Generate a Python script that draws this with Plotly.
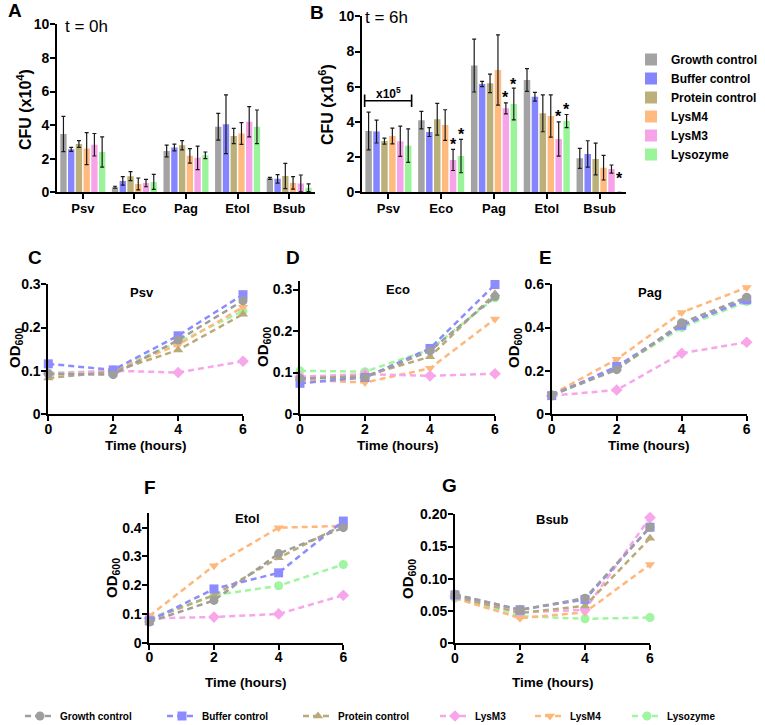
import plotly.graph_objects as go

W, H = 765, 725

# ---------------- data ----------------
strains = ["Psv", "Eco", "Pag", "Etol", "Bsub"]
bar_names = ["Growth control", "Buffer control", "Protein control", "LysM4", "LysM3", "Lysozyme"]
bar_colors = ["#a3a3a3", "#8585ff", "#bcb07a", "#ffba80", "#f6a3ea", "#9af59a"]

# Panel A: CFU (x10^4), t = 0h  (mean, sd) per strain
a_growth = [3.47, 0.30, 2.46, 3.90, 0.83]
a_growth_err = [1.05, 0.06, 0.35, 0.80, 0.06]
a_buffer = [2.56, 0.68, 2.67, 4.05, 0.80]
a_buffer_err = [0.12, 0.25, 0.20, 1.75, 0.25]
a_protein = [2.87, 0.96, 2.80, 3.35, 0.97]
a_protein_err = [0.20, 0.27, 0.28, 0.45, 0.75]
a_lysm4 = [2.60, 0.50, 2.17, 3.50, 0.56]
a_lysm4_err = [0.95, 0.35, 0.43, 0.65, 0.37]
a_lysm3 = [2.83, 0.55, 2.05, 4.20, 0.53]
a_lysm3_err = [0.67, 0.22, 0.70, 0.90, 0.50]
a_lysozyme = [2.40, 0.62, 2.20, 3.90, 0.27]
a_lysozyme_err = [0.90, 0.45, 0.20, 1.00, 0.23]

# Panel B: CFU (x10^6), t = 6h (Psv in x10^5)
b_growth = [3.48, 4.10, 7.20, 6.38, 1.93]
b_growth_err = [1.07, 0.50, 1.50, 0.65, 0.57]
b_buffer = [3.45, 3.42, 6.15, 5.43, 2.18]
b_buffer_err = [0.65, 0.25, 0.15, 0.25, 0.75]
b_protein = [2.91, 4.15, 6.19, 4.49, 1.89]
b_protein_err = [0.17, 0.90, 0.53, 1.05, 0.90]
b_lysm4 = [3.20, 3.82, 6.95, 4.34, 1.40]
b_lysm4_err = [0.45, 0.87, 2.00, 1.20, 0.70]
b_lysm3 = [2.90, 1.84, 4.77, 3.03, 1.32]
b_lysm3_err = [0.86, 0.60, 0.31, 0.97, 0.23]
b_lysozyme = [2.65, 2.06, 5.02, 4.05, 0.00]
b_lysozyme_err = [0.95, 0.95, 0.90, 0.37, 0.00]

# significance stars in B: (strain index, series index, height)
b_star_strain = [1, 1, 2, 2, 3, 3, 4]
b_star_series = [4, 5, 4, 5, 4, 5, 5]
b_star_y = [2.87, 3.44, 5.58, 6.28, 4.49, 4.86, 0.94]

# Growth curves (OD600)
time_h = [0, 2, 4, 6]
line_names = ["Growth control", "Buffer control", "Protein control", "LysM3", "LysM4", "Lysozyme"]
line_colors = ["#9e9e9e", "#8c8cff", "#b9ab78", "#f7a6ea", "#ffb77a", "#a0f5a0"]
line_symbols = ["circle", "square", "triangle-up", "diamond", "triangle-down", "circle"]

psv_growth = [0.093, 0.091, 0.171, 0.262]
psv_buffer = [0.116, 0.102, 0.181, 0.276]
psv_protein = [0.083, 0.098, 0.148, 0.231]
psv_lysm3 = [0.093, 0.100, 0.096, 0.122]
psv_lysm4 = [0.090, 0.100, 0.160, 0.247]
psv_lysozyme = [0.095, 0.100, 0.166, 0.238]

eco_growth = [0.086, 0.088, 0.152, 0.283]
eco_buffer = [0.074, 0.088, 0.158, 0.312]
eco_protein = [0.085, 0.092, 0.138, 0.290]
eco_lysm3 = [0.090, 0.096, 0.092, 0.097]
eco_lysm4 = [0.082, 0.076, 0.110, 0.229]
eco_lysozyme = [0.104, 0.102, 0.155, 0.280]

pag_growth = [0.087, 0.205, 0.422, 0.540]
pag_buffer = [0.085, 0.220, 0.410, 0.528]
pag_protein = [0.090, 0.210, 0.410, 0.530]
pag_lysm3 = [0.085, 0.111, 0.281, 0.332]
pag_lysm4 = [0.090, 0.253, 0.470, 0.585]
pag_lysozyme = [0.090, 0.210, 0.400, 0.520]

etol_growth = [0.072, 0.147, 0.310, 0.400]
etol_buffer = [0.076, 0.187, 0.243, 0.423]
etol_protein = [0.080, 0.165, 0.295, 0.410]
etol_lysm3 = [0.085, 0.089, 0.100, 0.165]
etol_lysm4 = [0.093, 0.268, 0.400, 0.406]
etol_lysozyme = [0.085, 0.165, 0.198, 0.272]

bsub_growth = [0.076, 0.052, 0.070, 0.180]
bsub_buffer = [0.075, 0.052, 0.068, 0.180]
bsub_protein = [0.072, 0.047, 0.058, 0.163]
bsub_lysm3 = [0.073, 0.048, 0.052, 0.195]
bsub_lysm4 = [0.070, 0.039, 0.048, 0.122]
bsub_lysozyme = [0.070, 0.042, 0.038, 0.040]

# ---------------- helpers ----------------
FONT = "Liberation Sans, Arial, sans-serif"


def xd(a, b):
    return [a / W, b / W]


def yd(top, bot):
    return [1 - bot / H, 1 - top / H]


def px(x):
    return x / W


def py(y):
    return 1 - y / H


fig = go.Figure()

a_sets = [(a_growth, a_growth_err), (a_buffer, a_buffer_err), (a_protein, a_protein_err),
          (a_lysm4, a_lysm4_err), (a_lysm3, a_lysm3_err), (a_lysozyme, a_lysozyme_err)]
b_sets = [(b_growth, b_growth_err), (b_buffer, b_buffer_err), (b_protein, b_protein_err),
          (b_lysm4, b_lysm4_err), (b_lysm3, b_lysm3_err), (b_lysozyme, b_lysozyme_err)]

for i, (vals, err) in enumerate(a_sets):
    fig.add_trace(go.Bar(
        x=strains, y=vals, name=bar_names[i], marker=dict(color=bar_colors[i], line=dict(width=0)),
        error_y=dict(type="data", array=err, color="#1a1a1a", thickness=1.2, width=2),
        xaxis="x", yaxis="y", legend="legend", showlegend=True, legendrank=i + 1))

for i, (vals, err) in enumerate(b_sets):
    fig.add_trace(go.Bar(
        x=strains, y=vals, name=bar_names[i], marker=dict(color=bar_colors[i], line=dict(width=0)),
        error_y=dict(type="data", array=err, color="#1a1a1a", thickness=1.2, width=2),
        xaxis="x2", yaxis="y2", showlegend=False))

panels = [
    ("x3", "y3", [psv_growth, psv_buffer, psv_protein, psv_lysm3, psv_lysm4, psv_lysozyme]),
    ("x4", "y4", [eco_growth, eco_buffer, eco_protein, eco_lysm3, eco_lysm4, eco_lysozyme]),
    ("x5", "y5", [pag_growth, pag_buffer, pag_protein, pag_lysm3, pag_lysm4, pag_lysozyme]),
    ("x6", "y6", [etol_growth, etol_buffer, etol_protein, etol_lysm3, etol_lysm4, etol_lysozyme]),
    ("x7", "y7", [bsub_growth, bsub_buffer, bsub_protein, bsub_lysm3, bsub_lysm4, bsub_lysozyme]),
]
legend_widths = [97, 91, 80, 50, 52, 60]
draw_order = [5, 4, 3, 2, 1, 0]
for p, (xa, ya, series) in enumerate(panels):
    for i in draw_order:
        fig.add_trace(go.Scatter(
            x=time_h, y=series[i], name=line_names[i], mode="lines+markers",
            line=dict(color=line_colors[i], width=2.5, dash="6px,4px"),
            marker=dict(symbol=line_symbols[i], size=9, color=line_colors[i]),
            xaxis=xa, yaxis=ya, cliponaxis=False,
            showlegend=(p == 0), legend=("legend2" if i < 3 else "legend3"),
            legendrank=i + 1, legendwidth=legend_widths[i]))

# ---------------- axes ----------------
axis_common = dict(showline=True, linewidth=1.8, linecolor="black", ticks="outside", ticklen=5,
                   tickwidth=1.8, tickcolor="black", showgrid=False, zeroline=False,
                   tickfont=dict(family=FONT, size=14, color="black", weight="bold"))

layout_axes = {}
layout_axes["xaxis"] = dict(axis_common, domain=xd(57, 315), anchor="y", range=[-0.5, 4.5],
                            ticklabelstandoff=-2,
                            tickfont=dict(family=FONT, size=13, color="black", weight="bold"))
layout_axes["yaxis"] = dict(axis_common, domain=yd(24.3, 192.3), anchor="x", range=[0, 10],
                            tickvals=[0, 2, 4, 6, 8, 10], ticklabelstandoff=-2)
layout_axes["xaxis2"] = dict(axis_common, domain=xd(362, 626), anchor="y2", range=[-0.5, 4.5],
                             ticklabelstandoff=-2,
                             tickfont=dict(family=FONT, size=13, color="black", weight="bold"))
layout_axes["yaxis2"] = dict(axis_common, domain=yd(16.3, 192.3), anchor="x2", range=[0, 10],
                             tickvals=[0, 2, 4, 6, 8, 10], ticklabelstandoff=-2)

line_axes = [
    ("3", xd(48.3, 243), yd(284.3, 414), [0, 0.3], [0, 0.1, 0.2, 0.3], ["0", "0.1", "0.2", "0.3"]),
    ("4", xd(300, 495), yd(281.2, 414), [0, 0.32], [0, 0.1, 0.2, 0.3], ["0", "0.1", "0.2", "0.3"]),
    ("5", xd(551.7, 746.7), yd(284.3, 414), [0, 0.6], [0, 0.2, 0.4, 0.6], ["0", "0.2", "0.4", "0.6"]),
    ("6", xd(149.3, 343.3), yd(513.3, 642.7), [0, 0.45], [0, 0.1, 0.2, 0.3, 0.4],
     ["0", "0.1", "0.2", "0.3", "0.4"]),
    ("7", xd(455, 650), yd(514.3, 643.3), [0, 0.2], [0, 0.05, 0.10, 0.15, 0.20],
     ["0", "0.05", "0.10", "0.15", "0.20"]),
]
for n, xdom, ydom, yr, tv, tt in line_axes:
    layout_axes["xaxis" + n] = dict(axis_common, domain=xdom, anchor="y" + n, range=[0, 6],
                                    tickvals=[0, 2, 4, 6], ticklabelstandoff=-4)
    layout_axes["yaxis" + n] = dict(axis_common, domain=ydom, anchor="x" + n, range=yr,
                                    tickvals=tv, ticktext=tt, ticklabelstandoff=-2)

# ---------------- annotations ----------------
ann = []


def text(x, y, s, size, bold=True, angle=0, xanchor="center", yanchor="middle"):
    ann.append(dict(x=px(x), y=py(y), xref="paper", yref="paper", text=s, showarrow=False,
                    textangle=angle, xanchor=xanchor, yanchor=yanchor,
                    font=dict(family=FONT, size=size, color="black", weight=("bold" if bold else "normal"))))


# panel letters
for lab, x, y in [("A", 15, 11), ("B", 316.5, 12.5), ("C", 35, 257.5), ("D", 292.5, 257.5),
                  ("E", 545, 257.5), ("F", 150, 487.5), ("G", 449.5, 485.5)]:
    text(x, y, lab, 19)

text(63, 26, "t = 0h", 17, bold=False, xanchor="left")
text(363, 18, "t = 6h", 17, bold=False, xanchor="left")

text(24, 110, "CFU (x10<sup>4</sup>)", 16, angle=-90)
text(326, 105, "CFU (x10<sup>6</sup>)", 16, angle=-90)

for x, y in [(15, 348), (264, 347), (514, 348), (112, 578), (408, 579)]:
    text(x, y, "OD<sub>600</sub>", 15, angle=-90)

for x, y in [(145.6, 445), (397.5, 445), (649.2, 445), (246.3, 682), (552.5, 682)]:
    text(x, y, "Time (hours)", 13.5)

for s, x, y in [("Psv", 141.5, 292), ("Eco", 397.5, 289.5), ("Pag", 649.5, 292),
                ("Etol", 247, 518), ("Bsub", 552.5, 519.5)]:
    text(x, y, s, 13)

# stars in panel B (data coordinates)
for si, se, yv in zip(b_star_strain, b_star_series, b_star_y):
    ann.append(dict(x=si - 0.45 + 0.15 * (se + 0.5), y=yv, xref="x2", yref="y2", text="*",
                    showarrow=False, xanchor="center", yanchor="middle", yshift=-3,
                    font=dict(family=FONT, size=16, color="black", weight="bold")))

# x10^5 bracket label
ann.append(dict(x=0, y=5.66, xref="x2", yref="y2", text="x10<sup>5</sup>", showarrow=False,
                font=dict(family=FONT, size=12, color="black", weight="bold")))

shapes = [
    dict(type="line", xref="x2", yref="y2", x0=-0.45, x1=0.44, y0=5.2, y1=5.2,
         line=dict(color="black", width=1.6)),
    dict(type="line", xref="x2", yref="y2", x0=-0.45, x1=-0.45, y0=4.85, y1=5.55,
         line=dict(color="black", width=1.6)),
    dict(type="line", xref="x2", yref="y2", x0=0.44, x1=0.44, y0=4.85, y1=5.55,
         line=dict(color="black", width=1.6)),
]

fig.update_layout(
    width=W, height=H, margin=dict(l=0, r=0, t=0, b=0, autoexpand=False),
    paper_bgcolor="white", plot_bgcolor="white",
    font=dict(family=FONT, color="black"),
    barmode="group", bargap=0.1, bargroupgap=0.18,
    annotations=ann, shapes=shapes,
    legend=dict(x=px(631), y=py(107), xanchor="left", yanchor="middle", orientation="v",
                font=dict(family=FONT, size=12, color="black", weight="bold"),
                bgcolor="rgba(0,0,0,0)", tracegroupgap=0, traceorder="normal"),
    legend2=dict(x=px(20), y=py(716), xanchor="left", yanchor="middle", orientation="h",
                 font=dict(family=FONT, size=10, color="black", weight="bold"),
                 bgcolor="rgba(0,0,0,0)", traceorder="normal"),
    legend3=dict(x=px(435), y=py(716), xanchor="left", yanchor="middle", orientation="h",
                 font=dict(family=FONT, size=10, color="black", weight="bold"),
                 bgcolor="rgba(0,0,0,0)", traceorder="normal"),
    **layout_axes,
)

fig.write_html("out.html")
